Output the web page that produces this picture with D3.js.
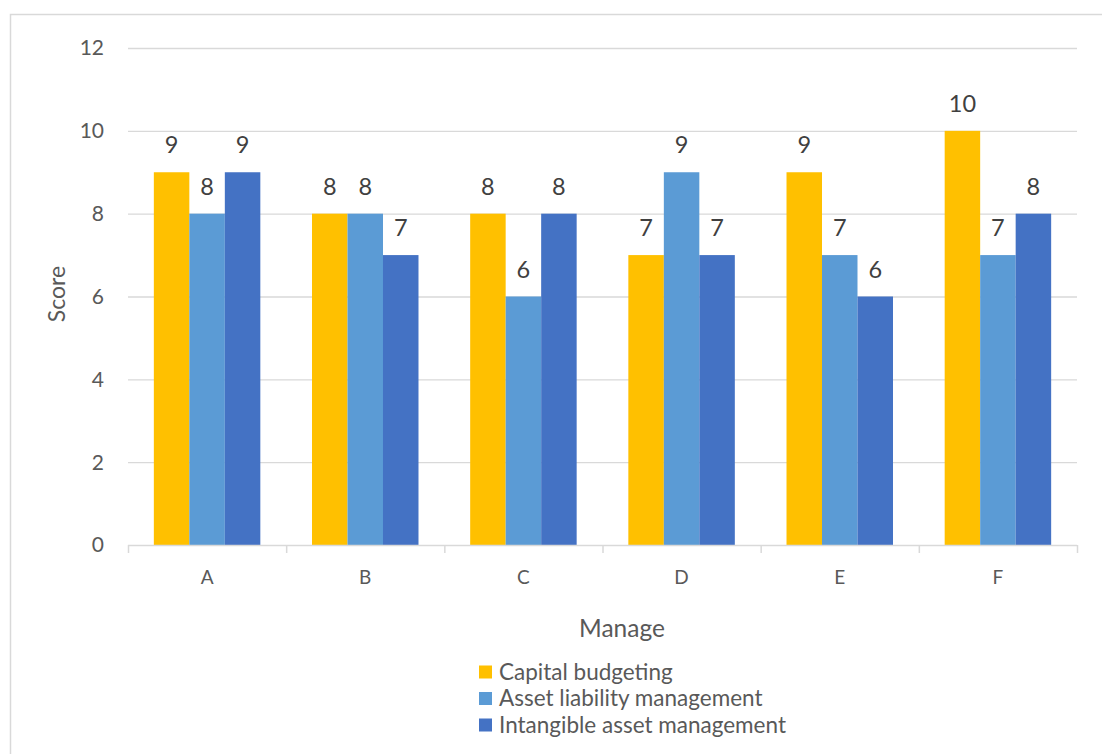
<!DOCTYPE html>
<html><head><meta charset="utf-8">
<script src="https://cdn.jsdelivr.net/npm/d3@7"></script>
<style>
html,body{margin:0;padding:0;background:#fff;}
svg{display:block;font-family:Lato,"Open Sans",sans-serif;}
</style></head>
<body><svg id="c" width="1102" height="754"></svg>
<script>
const categories = ["A","B","C","D","E","F"];
const seriesNames = ["Capital budgeting","Asset liability management","Intangible asset management"];
const capitalBudgeting = [9,8,8,7,9,10];
const assetLiability = [8,8,6,9,7,7];
const intangibleAsset = [9,7,8,7,6,8];
const yTicks = [0,2,4,6,8,10,12];
const colors = ["#FFC000","#5B9BD5","#4472C4"];

(function(){
const seriesValues = [capitalBudgeting, assetLiability, intangibleAsset];
const svg = d3.select("#c");

// outer chart border
svg.append("rect").attr("x",10.5).attr("y",14.5).attr("width",1200).attr("height",800)
  .attr("fill","none").attr("stroke","#D9D9D9").attr("stroke-width",1.5);

const pl=128, pr=1077, pt=48, pb=545;
const x = d3.scaleBand().domain(categories).range([pl,pr]).paddingInner(0).paddingOuter(0);
const x1 = d3.scaleBand().domain(d3.range(3)).range([0,x.bandwidth()]).paddingInner(0).paddingOuter(0.728);
const y = d3.scaleLinear().domain([0,12]).range([pb,pt]);

// gridlines
svg.append("g").selectAll("line").data(yTicks.filter(t=>t>0)).join("line")
  .attr("x1",pl).attr("x2",pr).attr("y1",d=>y(d)+0.5).attr("y2",d=>y(d)+0.5)
  .attr("stroke","#D9D9D9").attr("stroke-width",1.3);

// y tick labels
svg.append("g").selectAll("text").data(yTicks).join("text")
  .attr("x",104).attr("y",d=>y(d)).attr("dy","0.35em").attr("text-anchor","end")
  .attr("font-size",21).attr("fill","#595959").text(d=>d);

// bars
const groups = svg.append("g").selectAll("g").data(categories).join("g")
  .attr("transform",d=>`translate(${x(d)},0)`);
groups.selectAll("rect").data((c,i)=>seriesValues.map((s,k)=>({k,v:s[i]}))).join("rect")
  .attr("x",d=>x1(d.k)).attr("width",x1.bandwidth())
  .attr("y",d=>y(d.v)).attr("height",d=>y(0)-y(d.v))
  .attr("fill",d=>colors[d.k]);
groups.selectAll("text").data((c,i)=>seriesValues.map((s,k)=>({k,v:s[i]}))).join("text")
  .attr("x",d=>x1(d.k)+x1.bandwidth()/2).attr("y",d=>y(d.v)-27).attr("dy","0.35em")
  .attr("text-anchor","middle").attr("font-size",23.5).attr("fill","#404040").text(d=>d.v);

// x axis
const xa = svg.append("g");
xa.append("line").attr("x1",pl).attr("x2",pr).attr("y1",pb+0.5).attr("y2",pb+0.5)
  .attr("stroke","#D9D9D9").attr("stroke-width",1.5);
const bounds = categories.map(c=>x(c)).concat([pr]);
xa.selectAll("line.t").data(bounds).join("line").attr("class","t")
  .attr("x1",d=>d+0.5).attr("x2",d=>d+0.5).attr("y1",pb).attr("y2",pb+8)
  .attr("stroke","#D9D9D9").attr("stroke-width",1.5);
xa.selectAll("text").data(categories).join("text")
  .attr("x",d=>x(d)+x.bandwidth()/2).attr("y",577).attr("dy","0.35em")
  .attr("text-anchor","middle").attr("font-size",19).attr("fill","#595959").text(d=>d);

// axis titles
svg.append("text").attr("x",622).attr("y",628).attr("dy","0.35em").attr("text-anchor","middle")
  .attr("font-size",24.5).attr("fill","#595959").text("Manage");
svg.append("text").attr("transform","translate(57,294) rotate(-90)").attr("dy","0.35em")
  .attr("text-anchor","middle").attr("font-size",23).attr("fill","#595959").text("Score");

// legend
const lg = svg.append("g").selectAll("g").data(seriesNames).join("g")
  .attr("transform",(d,i)=>`translate(479,${672+i*26.5})`);
lg.append("rect").attr("x",0).attr("y",-6.5).attr("width",13).attr("height",13).attr("fill",(d,i)=>colors[i]);
lg.append("text").attr("x",20).attr("y",0).attr("dy","0.35em").attr("font-size",22.5)
  .attr("fill","#595959").text(d=>d);
})();
</script></body></html>
